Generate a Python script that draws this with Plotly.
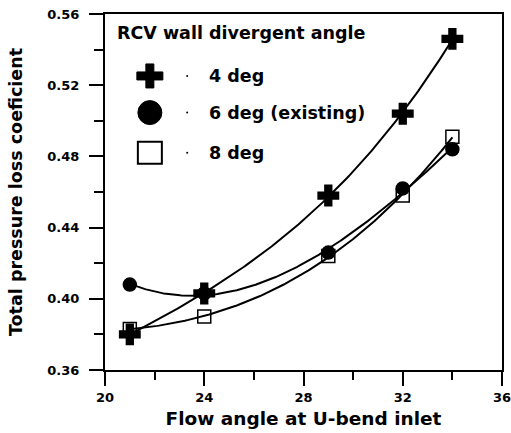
import numpy as np
import plotly.graph_objects as go

angles = [21, 24, 29, 32, 34]
deg4 = [0.380, 0.403, 0.458, 0.504, 0.546]
deg6 = [0.408, 0.403, 0.426, 0.462, 0.484]
deg8 = [0.383, 0.390, 0.424, 0.458, 0.491]

names = ["4 deg", "6 deg (existing)", "8 deg"]
series = [deg4, deg6, deg8]
symbols = ["cross", "circle", "square-open"]
sizes = [17, 13, 13]
legend_title = "RCV wall divergent angle"

fig = go.Figure()
xs = np.linspace(min(angles), max(angles), 200)
for name, ys in zip(names, series):
    c = np.polyfit(angles, ys, 3)
    fig.add_trace(go.Scatter(x=xs, y=np.polyval(c, xs), mode="lines",
                             line=dict(color="black", width=2),
                             showlegend=False, hoverinfo="skip"))
for name, ys, sym, sz in zip(names, series, symbols, sizes):
    fig.add_trace(go.Scatter(x=angles, y=ys, mode="markers", name=name,
                             showlegend=False,
                             marker=dict(symbol=sym, size=sz, color="black",
                                         line=dict(color="black", width=1.5))))

font = "DejaVu Sans, Verdana, sans-serif"

# manual legend (layout decoration)
annotations = [dict(xref="paper", yref="paper", x=0.025, y=0.947, xanchor="left", yanchor="middle",
                    text="<b>" + legend_title + "</b>", showarrow=False,
                    font=dict(size=17.5, family=font, color="black"))]
row_y = [0.826, 0.723, 0.610]
shapes = []
cross_path = "M-13,-4 L-4,-4 L-4,-12 L4,-12 L4,-4 L13,-4 L13,4 L4,4 L4,12 L-4,12 L-4,4 L-13,4 Z"
for i, (name, yv) in enumerate(zip(names, row_y)):
    annotations.append(dict(xref="paper", yref="paper", x=0.258, y=yv, xanchor="left", yanchor="middle",
                            text="<b>" + name + "</b>", showarrow=False,
                            font=dict(size=17.5, family=font, color="black")))
    common = dict(xref="paper", yref="paper", xsizemode="pixel", ysizemode="pixel",
                  xanchor=0.113, yanchor=yv)
    if i == 0:
        shapes.append(dict(type="path", path=cross_path, fillcolor="black",
                           line=dict(color="black", width=1), **common))
    elif i == 1:
        shapes.append(dict(type="circle", x0=-12, x1=12, y0=-12, y1=12, fillcolor="black",
                           line=dict(color="black", width=1), **common))
    else:
        shapes.append(dict(type="rect", x0=-12, x1=12, y0=-11, y1=11,
                           line=dict(color="black", width=2), **common))
    shapes.append(dict(type="circle", xref="paper", yref="paper", xsizemode="pixel", ysizemode="pixel",
                       xanchor=0.207, yanchor=yv, x0=-1, x1=1, y0=-1, y1=1,
                       fillcolor="black", line=dict(color="black", width=0)))

fig.update_layout(
    width=511, height=433,
    margin=dict(l=105, r=9, t=14, b=63),
    paper_bgcolor="white", plot_bgcolor="white",
    font=dict(family=font, color="black"),
    showlegend=False,
    annotations=annotations, shapes=shapes,
)
axis_common = dict(showline=True, linecolor="black", linewidth=2, mirror=True,
                   showgrid=False, zeroline=False, ticks="outside",
                   tickwidth=2, tickcolor="black", automargin=False,
                   ticklabeloverflow="allow",
                   tickfont=dict(size=13, family=font, weight="bold"))
fig.update_xaxes(range=[20, 36], tickvals=[20, 24, 28, 32, 36], ticklen=14,
                 minor=dict(tickvals=[22, 26, 30, 34], ticks="outside", ticklen=8, tickwidth=2, tickcolor="black"),
                 title=dict(text="<b>Flow angle at U-bend inlet</b>", font=dict(size=18.5, family=font), standoff=8),
                 **axis_common)
fig.update_yaxes(range=[0.36, 0.56], tickvals=[0.36, 0.40, 0.44, 0.48, 0.52, 0.56],
                 tickformat=".2f", ticklen=14, ticklabelstandoff=7,
                 minor=dict(tickvals=[0.38, 0.42, 0.46, 0.50, 0.54], ticks="outside", ticklen=9, tickwidth=2, tickcolor="black"),
                 title=dict(text="<b>Total pressure loss coeficient</b>", font=dict(size=17.5, family=font), standoff=20),
                 **axis_common)
# remove the browser's default 8px body margin so the 511x433 figure fills the window exactly
fig.write_html("out.html", config={"displayModeBar": False},
               post_script="document.body.style.margin='0';document.body.style.overflow='hidden';")
